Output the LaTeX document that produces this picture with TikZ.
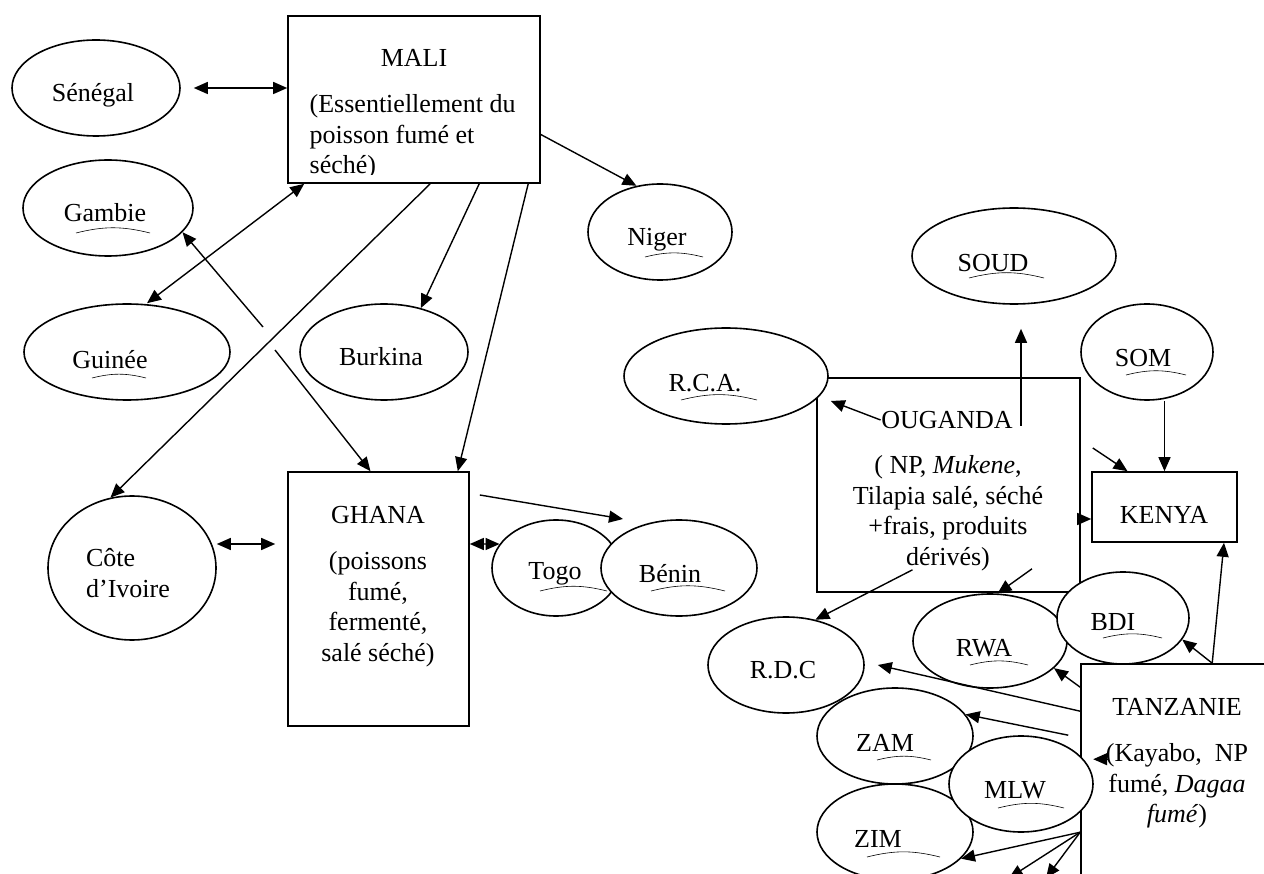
\documentclass[tikz,border=0pt]{standalone}
\usepackage{fontspec}
\setmainfont{Liberation Serif}
\usetikzlibrary{shapes,arrows.meta}

\begin{document}
\begin{tikzpicture}[->,>={Triangle[length=14pt,width=12pt]},x=1pt,y=-1pt,line width=1.4pt,
  font=\fontsize{26}{30.5}\selectfont]
\tikzstyle{pays}=[draw=black,ellipse,fill=white,inner sep=0pt,line width=1.6pt]
\tikzstyle{bloc}=[draw=black,rectangle,fill=white,inner sep=0pt,line width=1.6pt]
\tikzstyle{texte}=[inner sep=0pt,align=center]
\tikzstyle{souligne}=[-,line width=0.6pt]

\useasboundingbox (0,0) rectangle (1264,874);

% les pays exportateurs
\node[bloc,minimum width=252pt,minimum height=167pt] (mali) at (414,99.5) {};
\node[texte] (maliT) at (414,58) {MALI};
\begin{scope}
\path[clip] (288,16) rectangle (540,175);
\node[texte,anchor=west,align=left] (maliC) at (309,137) {(Essentiellement du\\poisson fumé et\\séché)};
\end{scope}

\node[bloc,minimum width=181pt,minimum height=254pt] (ghana) at (378.5,599) {};
\node[texte] (ghanaT) at (378,515) {GHANA};
\node[texte] (ghanaC) at (378,609) {(poissons\\fumé,\\fermenté,\\salé séché)};

\node[bloc,minimum width=263pt,minimum height=214pt] (ouganda) at (948.5,485) {};
\node[texte] (ougT) at (947,420) {OUGANDA};
\node[texte] (ougC) at (948,513) {( NP, \textit{Mukene},\\Tilapia salé, séché\\+frais, produits\\dérivés)};

\node[bloc,minimum width=220pt,minimum height=240pt] (tanz) at (1191,784) {};
\node[texte] (tanzT) at (1177,707) {TANZANIE};
\node[texte] (tanzC) at (1177,786) {(Kayabo,\ \ NP\\fumé, \textit{Dagaa}\\\textit{fumé})};

\node[bloc,minimum width=145pt,minimum height=70pt] (kenya) at (1164.5,507) {};
\node[texte] (kenyaT) at (1164,515) {KENYA};

% les pays voisins
\node[pays,minimum width=168pt,minimum height=96pt] (sen) at (96,88) {};
\node[texte] (senT) at (93,95) {Sénégal};
\node[pays,minimum width=170pt,minimum height=96pt] (gam) at (108,208) {};
\node[texte] (gamT) at (105,213) {Gambie};
\node[pays,minimum width=206pt,minimum height=96pt] (gui) at (127,352) {};
\node[texte] (guiT) at (110,360) {Guinée};
\node[pays,minimum width=168pt,minimum height=96pt] (bur) at (384,352) {};
\node[texte] (burT) at (381,357) {Burkina};
\node[pays,minimum width=144pt,minimum height=96pt] (nig) at (660,232) {};
\node[texte] (nigT) at (657,240) {Niger};
\node[pays,minimum width=168pt,minimum height=144pt] (cot) at (132,568) {};
\node[texte,align=left] (cotT) at (128,573) {Côte\\d'Ivoire};
\node[pays,minimum width=128pt,minimum height=96pt] (togo) at (556,568) {};
\node[texte] (togoT) at (555,574) {Togo};
\node[pays,minimum width=156pt,minimum height=96pt] (ben) at (679,568) {};
\node[texte] (benT) at (670,574) {Bénin};
\node[pays,minimum width=204pt,minimum height=96pt] (rca) at (726,376) {};
\node[texte] (rcaT) at (705,383) {R.C.A.};
\node[pays,minimum width=204pt,minimum height=96pt] (soud) at (1014,256) {};
\node[texte] (soudT) at (993,263) {SOUD};
\node[pays,minimum width=132pt,minimum height=96pt] (som) at (1147,352) {};
\node[texte] (somT) at (1143,358) {SOM};
\node[pays,minimum width=156pt,minimum height=96pt] (rdc) at (786,665) {};
\node[texte] (rdcT) at (783,670) {R.D.C};
\node[pays,minimum width=156pt,minimum height=96pt] (zam) at (895,736) {};
\node[texte] (zamT) at (885,743) {ZAM};
\node[pays,minimum width=156pt,minimum height=96pt] (zim) at (895,832) {};
\node[texte] (zimT) at (878,839) {ZIM};
\node[pays,minimum width=154pt,minimum height=94pt] (rwa) at (990,641) {};
\node[texte] (rwaT) at (984,648) {RWA};
\node[pays,minimum width=132pt,minimum height=92pt] (bdi) at (1123,618) {};
\node[texte] (bdiT) at (1113,622) {BDI};
\node[pays,minimum width=144pt,minimum height=96pt] (mlw) at (1021,784) {};
\node[texte] (mlwT) at (1015,790) {MLW};

% soulignements
\foreach \a/\b/\y in {76/150/233, 92/146/378, 645/703/257, 681/757/400, 969/1044/278,
  1126/1186/375, 540/607/591, 651/725/591, 877/931/760, 867/940/857, 998/1064/808,
  970/1028/665, 1103/1162/638}
  \draw[souligne] (\a,\y) to[bend left=14] (\b,\y);

% flux Afrique de l'Ouest
\coordinate (gamA) at (263,327);
\coordinate (gamB) at (275,350);
\coordinate (benIn) at (623,519);
\draw[<->,shorten <=13pt] (sen.east) -- (mali.west |- sen.east);
\draw[<->] ([xshift=20pt]gui.north) -- ([xshift=17pt]mali.south west);
\draw (gamA) -- (gam.-18);
\draw (gamB) -- ([xshift=-8pt]ghana.north);
\draw ([xshift=143pt]mali.south west) -- (cot.107);
\draw ([xshift=192pt]mali.south west) -- (bur.50);
\draw ([xshift=241pt]mali.south west) -- ([xshift=-12pt]ghana.north east);
\draw ([yshift=-35pt]mali.east) -- (nig.117);
\draw[<->,shorten >=12pt] ([yshift=24pt]cot.east) -- ([yshift=55pt]ghana.west);
\draw[<->] ([yshift=55pt]ghana.east) -- (togo.157);
\draw ([xshift=10pt,yshift=104pt]ghana.east) -- (benIn);

% flux Afrique de l'Est
\coordinate (sortieA) at (1009,878);
\coordinate (sortieB) at (1046,878);
\draw (ougT.west) -- ([xshift=2pt,yshift=-25pt]rca.east);
\draw[<-] ([xshift=7pt,yshift=-24pt]soud.south) -- ++(0,97);
\draw (kenya.north |- som.south) -- (kenya.north);
\draw ([xshift=12pt,yshift=37pt]ouganda.east) -- ([xshift=-37pt]kenya.north);
\draw ([yshift=-34pt]ouganda.east) -- ([yshift=-12pt]kenya.west);
\draw ([xshift=-36pt,yshift=23pt]ouganda.south) -- (rdc.57);
\draw ([xshift=83.5pt,yshift=24pt]ouganda.south) -- (rwa.81);
\draw ([xshift=132pt]tanz.north west) -- (bdi.-20);
\draw ([xshift=132pt]tanz.north west) -- ([xshift=59.5pt]kenya.south);
\draw ([yshift=-24pt]tanz.north west) -- (rwa.-23);
\draw ([yshift=-48pt]tanz.north west) -- ([xshift=13pt]rdc.east);
\draw ([xshift=-12pt,yshift=-72pt]tanz.north west) -- (zam.17);
\draw ([xshift=29pt,yshift=-96pt]tanz.north west) -- ([xshift=13pt,yshift=-96pt]tanz.north west);
\draw ([yshift=-169pt]tanz.north west) -- (zim.-22);
\draw ([yshift=-169pt]tanz.north west) -- (sortieA);
\draw ([yshift=-169pt]tanz.north west) -- (sortieB);
\end{tikzpicture}
\end{document}
